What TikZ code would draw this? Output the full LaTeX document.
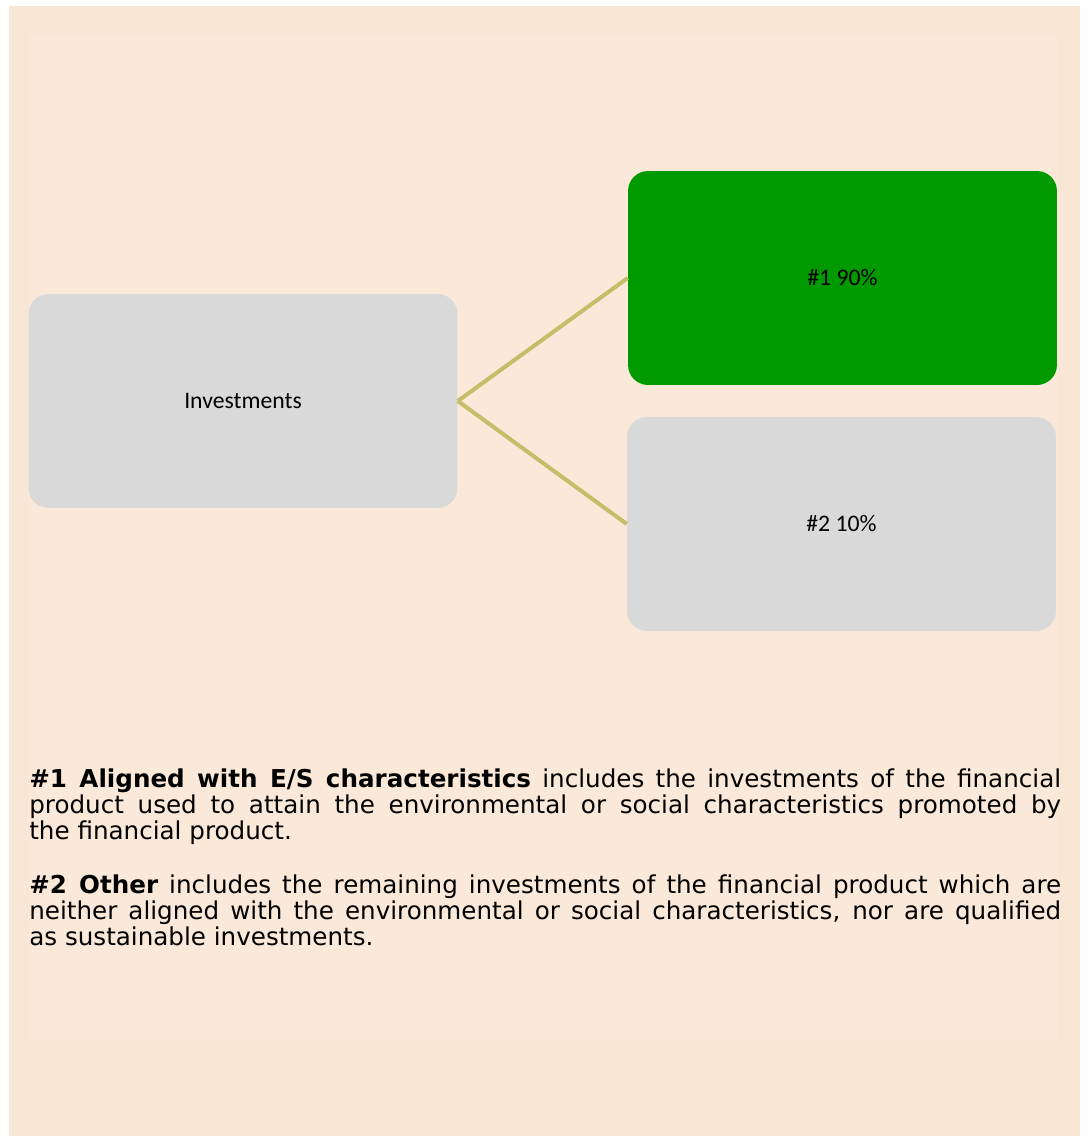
\documentclass[tikz,border=0pt]{standalone}
\usepackage{fontspec}
\setmainfont{DejaVu Sans}
\newfontfamily\boxfont{Carlito}
\definecolor{pagebg}{HTML}{F9E7D5}
\definecolor{panelbg}{HTML}{FAE9D8}
\definecolor{boxgrey}{HTML}{D9D9D9}
\definecolor{boxgreen}{HTML}{009900}
\definecolor{linkolive}{HTML}{C4BE6A}
\tikzset{
  catbox/.style={rounded corners=0.4cm, minimum width=8.58cm, minimum height=4.28cm,
    inner sep=0pt, font=\boxfont\fontsize{13.5pt}{15pt}\selectfont},
  link/.style={linkolive, line width=0.08cm}
}
\begin{document}
\begin{tikzpicture}[x=0.02cm, y=-0.02cm]
    \useasboundingbox (0,0) rectangle (1088,1136);

    % Background
    \fill[white] (0,0) rectangle (1088,1136);
    \fill[pagebg] (9,6) rectangle (1080,1136);
    \fill[panelbg] (29,35) rectangle (1058,1040);

    % Boxes
    \node[catbox, fill=boxgrey] (invest) at (243,401) {Investments};
    \node[catbox, fill=boxgreen] (aligned) at (842.5,278) {\#1 90\%};
    \node[catbox, fill=boxgrey] (other) at (841.5,524) {\#2 10\%};

    % Links
    \draw[link] (invest.east) -- (aligned.west);
    \draw[link] (invest.east) -- (other.west);

    % Notes
    \node[anchor=base west, text width=20.64cm, align=justify, inner sep=0pt,
      font=\fontsize{14pt}{14.8pt}\selectfont] (notes) at (29,787) {%
      \textbf{\#1 Aligned with E/S characteristics} includes the investments of the financial\linebreak
      product used to attain the environmental or social characteristics promoted by\linebreak
      the financial product.\par\vspace{0.56cm}
      \textbf{\#2 Other} includes the remaining investments of the financial product which are\linebreak
      neither aligned with the environmental or social characteristics, nor are qualified\linebreak
      as sustainable investments.};
\end{tikzpicture}
\end{document}
